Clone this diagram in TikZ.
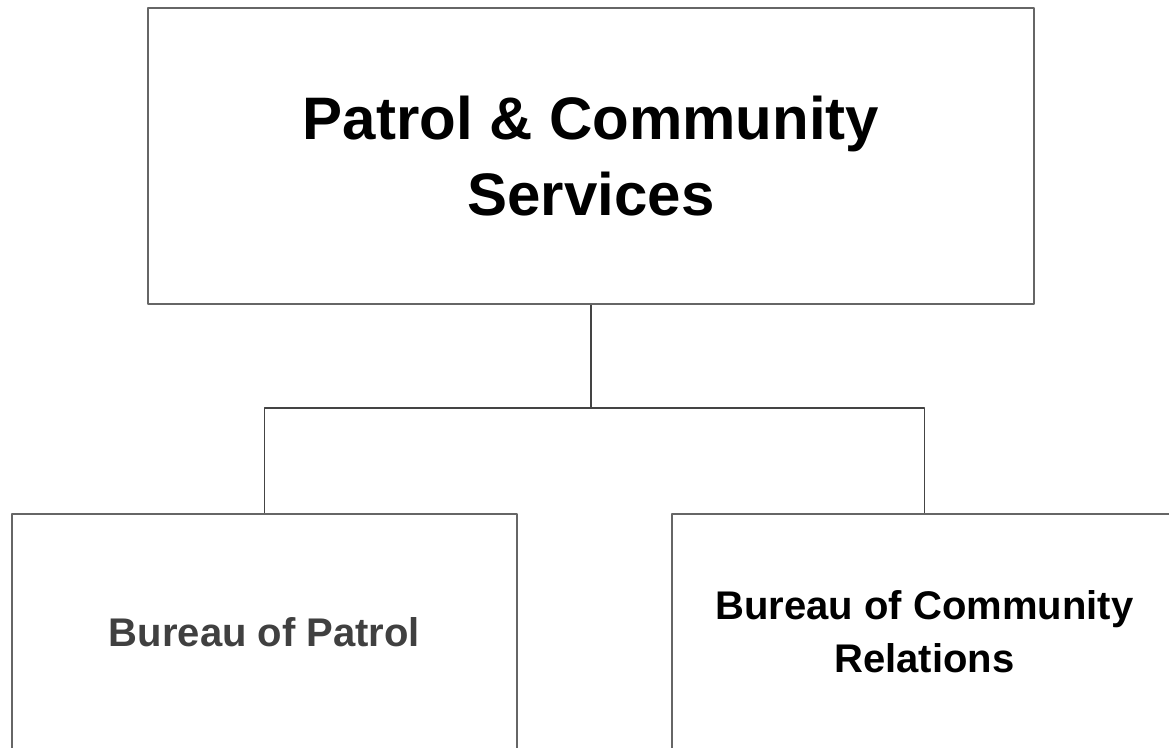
\documentclass[tikz,border=0pt]{standalone}
\usepackage{fontspec}
\setmainfont{Liberation Sans}
\definecolor{boxgray}{HTML}{666666}
\definecolor{linegray}{HTML}{444444}
\definecolor{textgray}{HTML}{404040}
\tikzset{
  unitbox/.style={draw=boxgray, line width=2pt, inner sep=0pt, align=center, font=\bfseries},
  link/.style={draw=linegray, line width=1.3pt}
}
\begin{document}
\begin{tikzpicture}[x=1pt, y=-1pt, line join=round]
				\useasboundingbox (0,0) rectangle (1169,747);
				\node[unitbox, minimum width=886pt, minimum height=296pt, font=\bfseries\fontsize{60}{76}\selectfont] (pcs) at (591,156) {Patrol \& Community\\Services};
				\node[unitbox, minimum width=505pt, minimum height=236pt, text=textgray, font=\bfseries\fontsize{40}{53}\selectfont] (bp) at (264.5,632) {Bureau of Patrol};
				\node[unitbox, minimum width=505pt, minimum height=236pt, font=\bfseries\fontsize{40}{53}\selectfont] (bcr) at (924.5,632) {Bureau of Community\\Relations};
				\coordinate (fork) at (591,408);
				\draw[link] (pcs.south) -- (fork) -| (bcr.north);
				\draw[link] (fork) -| (bp.north);
			\end{tikzpicture}
\end{document}
